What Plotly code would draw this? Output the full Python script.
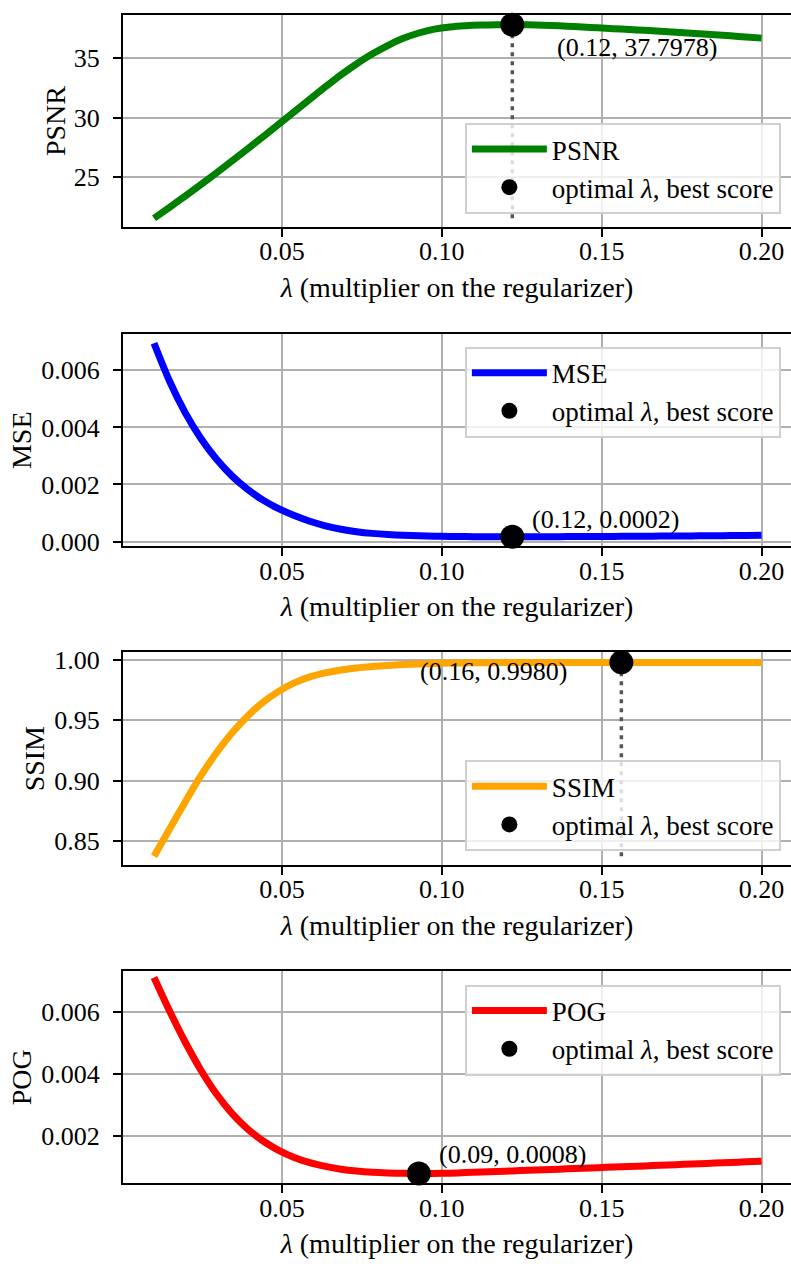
import plotly.graph_objects as go

# ---------------- data ----------------
lambdas = [0.01000, 0.01487, 0.01974, 0.02462, 0.02949, 0.03436, 0.03923, 0.04410,
           0.04897, 0.05385, 0.05872, 0.06359, 0.06846, 0.07333, 0.07821, 0.08308,
           0.08795, 0.09282, 0.09769, 0.10256, 0.10744, 0.11231, 0.11718, 0.12205,
           0.12692, 0.13179, 0.13667, 0.14154, 0.14641, 0.15128, 0.15615, 0.16103,
           0.16590, 0.17077, 0.17564, 0.18051, 0.18538, 0.19026, 0.19513, 0.20000]

psnr = [21.55, 22.47, 23.41, 24.37, 25.35, 26.35, 27.37, 28.40,
        29.44, 30.49, 31.54, 32.58, 33.59, 34.50, 35.33, 36.05,
        36.65, 37.10, 37.42, 37.61, 37.71, 37.765, 37.79, 37.7978,
        37.785, 37.75, 37.70, 37.64, 37.57, 37.50, 37.43, 37.36,
        37.28, 37.20, 37.12, 37.03, 36.95, 36.86, 36.77, 36.67]

mse = [0.00695, 0.00562, 0.00452, 0.00362, 0.00289, 0.00230, 0.00183, 0.00145,
       0.00115, 0.00091, 0.00071, 0.00055, 0.00043, 0.000345, 0.000285, 0.000245,
       0.000218, 0.000200, 0.000187, 0.000178, 0.000172, 0.000169, 0.0001668, 0.000166,
       0.0001667, 0.000168, 0.000170, 0.000172, 0.000175, 0.000178, 0.000181, 0.000184,
       0.000187, 0.000191, 0.000195, 0.000199, 0.000203, 0.000207, 0.000211, 0.000215]

ssim = [0.8375, 0.8600, 0.8825, 0.9040, 0.9230, 0.9395, 0.9535, 0.9650,
        0.9740, 0.9810, 0.9860, 0.9893, 0.9917, 0.9934, 0.9946, 0.9955,
        0.9962, 0.9967, 0.9971, 0.9974, 0.9976, 0.99770, 0.99778, 0.99785,
        0.99790, 0.99793, 0.99795, 0.99797, 0.99798, 0.99799, 0.99802, 0.99800,
        0.99799, 0.99798, 0.99797, 0.99796, 0.99795, 0.99794, 0.99793, 0.99792]

pog = [0.00712, 0.00604, 0.00504, 0.00414, 0.00337, 0.00274, 0.00224, 0.00185,
       0.00155, 0.00132, 0.00115, 0.00103, 0.00094, 0.00088, 0.00084, 0.000818,
       0.000808, 0.000803, 0.000806, 0.000814, 0.000831, 0.000849, 0.000867, 0.000886,
       0.000905, 0.000924, 0.000943, 0.000962, 0.000981, 0.001000, 0.001019, 0.001038,
       0.001058, 0.001078, 0.001098, 0.001118, 0.001138, 0.001158, 0.001178, 0.001198]

metric_names = ["PSNR", "MSE", "SSIM", "POG"]
metric_goals = ["max", "min", "max", "min"]
metric_colors = ["#008000", "#0000ff", "#ffa500", "#ff0000"]
x_ticks = [0.05, 0.10, 0.15, 0.20]
y_ticks = [[25, 30, 35], [0.000, 0.002, 0.004, 0.006],
           [0.85, 0.90, 0.95, 1.00], [0.002, 0.004, 0.006]]

# ---------------- styling / layout ----------------
series = [psnr, mse, ssim, pog]
y_formats = ["d", ".3f", ".2f", ".3f"]
y_ranges = [[20.80, 38.62], [-0.000173, 0.00727], [0.8304, 1.0062], [0.000485, 0.007327]]
y_title_standoff = [0, 1, 1, 1]
H = 1276.0
boxes = [(9, 224), (332.3, 547.3), (654.7, 869.7), (977.3, 1192.3)]
legend_pos = [("bottom", 210.7), ("top", 345), ("bottom", 856), ("top", 991)]
ann_style = [("left", 43, -23), ("left", 18, 17), ("right", -52, -9), ("left", 18, 19)]

FONT = "Liberation Serif"
FS = 26
TITLE_FS = 28
GRID = "#b0b0b0"

fig = go.Figure()
layout = dict(
    width=791, height=1276,
    margin=dict(l=123, r=0, t=0, b=0),
    paper_bgcolor="white", plot_bgcolor="white",
    font=dict(family=FONT, size=FS, color="black"),
    showlegend=True,
    annotations=[],
)

for i in range(4):
    ys = series[i]
    name = metric_names[i]
    n = "" if i == 0 else str(i + 1)
    xa, ya = "x" + n, "y" + n
    leg = "legend" + n
    if metric_goals[i] == "max":
        bi = max(range(len(ys)), key=lambda k: ys[k])
    else:
        bi = min(range(len(ys)), key=lambda k: ys[k])
    bx, by = lambdas[bi], ys[bi]

    fig.add_trace(go.Scatter(x=lambdas, y=ys, mode="lines", name=name,
                             line=dict(color=metric_colors[i], width=7,
                                       shape="spline", smoothing=0.8),
                             xaxis=xa, yaxis=ya, legend=leg))
    fig.add_trace(go.Scatter(x=[bx, bx], y=[min(ys), by], mode="lines",
                             line=dict(color="#555555", width=3.5, dash="4px,5px"),
                             showlegend=False, xaxis=xa, yaxis=ya, hoverinfo="skip"))
    fig.add_trace(go.Scatter(x=[bx], y=[by], mode="markers",
                             name="optimal <i>λ</i>, best score",
                             marker=dict(color="black", size=24),
                             cliponaxis=False, xaxis=xa, yaxis=ya, legend=leg))

    top, bot = boxes[i]
    layout["xaxis" + n] = dict(
        domain=[0, 1], range=[0.0003, 0.2092], anchor=ya,
        tickvals=x_ticks, tickformat=".2f",
        ticks="outside", ticklen=8, tickwidth=2, tickcolor="black",
        ticklabelstandoff=-8,
        showline=True, linewidth=2, linecolor="black", mirror=True,
        showgrid=True, gridcolor=GRID, gridwidth=2, zeroline=False,
        title=dict(text="<i>λ</i> (multiplier on the regularizer)", standoff=12,
                   font=dict(family=FONT, size=TITLE_FS)),
    )
    layout["yaxis" + n] = dict(
        domain=[1 - bot / H, 1 - top / H], range=y_ranges[i], anchor=xa,
        tickvals=y_ticks[i], tickformat=y_formats[i],
        ticks="outside", ticklen=8, tickwidth=2, tickcolor="black",
        ticklabelstandoff=8,
        showline=True, linewidth=2, linecolor="black",
        showgrid=True, gridcolor=GRID, gridwidth=2, zeroline=False,
        title=dict(text=name, standoff=y_title_standoff[i],
                   font=dict(family=FONT, size=TITLE_FS)),
    )
    anc, ly = legend_pos[i]
    layout[leg] = dict(
        x=779 / 791.0, xanchor="right", y=1 - ly / H, yanchor=anc,
        bgcolor="rgba(255,255,255,0.8)", bordercolor="#d0d0d0", borderwidth=2,
        font=dict(family=FONT, size=27), itemwidth=75, tracegroupgap=0,
    )
    xan, xs, ysft = ann_style[i]
    layout["annotations"].append(dict(
        x=bx, y=by, xref=xa, yref=ya, showarrow=False,
        text="(%.2f, %.4f)" % (bx, by), xanchor=xan, yanchor="middle",
        xshift=xs, yshift=ysft, font=dict(family=FONT, size=FS),
    ))

fig.update_layout(**layout)
fig.write_html("out.html")
